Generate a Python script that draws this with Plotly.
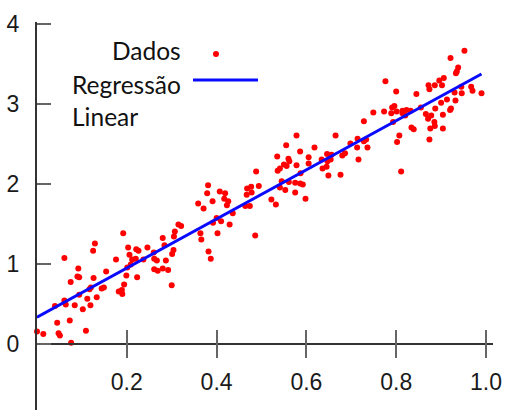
import plotly.graph_objects as go

# ---- data ----
x_dados = [
    0.129, 0.125, 0.061, 0.176, 0.092, 0.154, 0.090, 0.094, 0.126, 0.075, 0.120, 0.144, 0.149, 0.182, 0.117, 0.094,
    0.133, 0.112, 0.061, 0.064, 0.040, 0.084, 0.119, 0.102, 0.073, 0.045, 0.000, 0.014, 0.048, 0.051, 0.109, 0.076,
    0.359, 0.371, 0.192, 0.315, 0.321, 0.307, 0.305, 0.364, 0.366, 0.280, 0.284, 0.203, 0.246, 0.221, 0.226, 0.304,
    0.301, 0.260, 0.206, 0.212, 0.220, 0.237, 0.261, 0.267, 0.287, 0.209, 0.201, 0.261, 0.269, 0.280, 0.292, 0.199,
    0.223, 0.194, 0.300, 0.189, 0.190,
    0.555, 0.535, 0.560, 0.562, 0.550, 0.556, 0.541, 0.536, 0.488, 0.545, 0.561, 0.381, 0.477, 0.468, 0.494, 0.541,
    0.553, 0.379, 0.407, 0.419, 0.478, 0.467, 0.417, 0.426, 0.391, 0.522, 0.532, 0.423, 0.464, 0.474, 0.436, 0.400,
    0.410, 0.392, 0.429, 0.402, 0.486, 0.382, 0.387,
    0.749, 0.728, 0.578, 0.665, 0.714, 0.728, 0.733, 0.698, 0.618, 0.713, 0.736, 0.586, 0.686, 0.680, 0.646, 0.656,
    0.605, 0.634, 0.654, 0.647, 0.716, 0.605, 0.578, 0.645, 0.636, 0.587, 0.649, 0.676, 0.575, 0.586, 0.592, 0.575,
    0.598,
    0.952, 0.921, 0.938, 0.935, 0.933, 0.776, 0.906, 0.896, 0.902, 0.886, 0.872, 0.874, 0.967, 0.945, 0.970, 0.990,
    0.930, 0.946, 0.800, 0.845, 0.913, 0.932, 0.900, 0.855, 0.796, 0.791, 0.773, 0.789, 0.801, 0.814, 0.823, 0.832,
    0.814, 0.820, 0.887, 0.922, 0.920, 0.866, 0.878, 0.904, 0.871, 0.885, 0.886, 0.793, 0.834, 0.839, 0.876, 0.904,
    0.807, 0.802, 0.874, 0.811,
]
y_dados = [
    1.25, 1.16, 1.07, 1.05, 0.94, 0.90, 0.84, 0.83, 0.82, 0.77, 0.70, 0.69, 0.70, 0.65, 0.68, 0.61,
    0.58, 0.56, 0.54, 0.49, 0.47, 0.48, 0.48, 0.43, 0.29, 0.26, 0.15, 0.12, 0.13, 0.10, 0.16, 0.01,
    1.75, 1.69, 1.38, 1.49, 1.47, 1.40, 1.34, 1.38, 1.30, 1.32, 1.23, 1.20, 1.20, 1.18, 1.16, 1.17,
    1.12, 1.14, 1.11, 1.05, 1.06, 1.05, 1.06, 1.04, 1.04, 0.99, 0.95, 0.93, 0.91, 0.94, 0.92, 0.85,
    0.83, 0.74, 0.73, 0.67, 0.62,
    2.48, 2.34, 2.31, 2.28, 2.24, 2.22, 2.19, 2.16, 2.15, 2.03, 2.02, 1.98, 1.96, 1.94, 1.97, 1.95,
    1.92, 1.88, 1.90, 1.88, 1.89, 1.86, 1.81, 1.78, 1.78, 1.80, 1.74, 1.73, 1.72, 1.72, 1.63, 1.57,
    1.53, 1.51, 1.49, 1.38, 1.35, 1.15, 1.06,
    2.89, 2.78, 2.60, 2.60, 2.56, 2.53, 2.55, 2.50, 2.45, 2.45, 2.45, 2.40, 2.38, 2.35, 2.37, 2.36,
    2.33, 2.30, 2.30, 2.28, 2.30, 2.25, 2.23, 2.21, 2.19, 2.13, 2.10, 2.11, 2.01, 2.00, 1.99, 1.89,
    1.81,
    3.66, 3.57, 3.45, 3.40, 3.38, 3.28, 3.32, 3.29, 3.23, 3.23, 3.23, 3.18, 3.21, 3.21, 3.16, 3.13,
    3.14, 3.13, 3.15, 3.12, 3.05, 3.04, 3.01, 2.95, 2.97, 2.95, 2.90, 2.88, 2.90, 2.91, 2.92, 2.91,
    2.88, 2.85, 2.94, 2.94, 2.92, 2.87, 2.85, 2.86, 2.81, 2.77, 2.72, 2.77, 2.70, 2.68, 2.69, 2.69,
    2.60, 2.52, 2.55, 2.15,
]
reg_x = [0.0, 0.99]
reg_y = [0.33, 3.37]

x_tickvals = [0.2, 0.4, 0.6, 0.8, 1.0]
x_ticktext = ["0.2", "0.4", "0.6", "0.8", "1.0"]
y_tickvals = [0, 1, 2, 3, 4]
y_ticktext = ["0", "1", "2", "3", "4"]

label_dados = "Dados"
label_reg = "Regressão<br>Linear"

# ---- figure ----
W, H = 506, 410
ML, MR, MT, MB = 37, 13, 22, 0
y_range = [-0.83, 4.02]
x_range = [0.0, 1.0156]
x_axis_pos = (0 - y_range[0]) / (y_range[1] - y_range[0])

tick_font = dict(family="Liberation Sans, Arial, sans-serif", size=23, color="#1a1a1a")
legend_font = dict(family="Lato, sans-serif", size=24.5, color="#111111")

fig = go.Figure()
fig.add_trace(go.Scatter(
    x=x_dados, y=y_dados, mode="markers", name=label_dados,
    marker=dict(color="#ff0000", size=6, line=dict(width=0)),
    cliponaxis=False, showlegend=False,
))
fig.add_trace(go.Scatter(
    x=reg_x, y=reg_y, mode="lines", name="Regressão Linear",
    line=dict(color="#0a0aff", width=3),
    xaxis="x2", yaxis="y", showlegend=False,
))

fig.update_layout(
    width=W, height=H,
    margin=dict(l=ML, r=MR, t=MT, b=MB, pad=0),
    paper_bgcolor="white", plot_bgcolor="white",
    showlegend=False,
    xaxis=dict(
        range=x_range, anchor="free", position=x_axis_pos,
        showgrid=False, zeroline=False,
        showline=True, linecolor="#333333", linewidth=1.5,
        ticks="outside", ticklen=14, tickwidth=1.5, tickcolor="#666666",
        tickvals=x_tickvals, ticktext=x_ticktext, tickfont=tick_font,
        ticklabelstandoff=4,
    ),
    xaxis2=dict(
        range=x_range, overlaying="x", anchor="free", position=x_axis_pos,
        showgrid=False, zeroline=False, showline=False,
        ticks="inside", ticklen=14, tickwidth=1.5, tickcolor="#666666",
        tickvals=x_tickvals, showticklabels=False,
    ),
    yaxis=dict(
        range=y_range, showgrid=False, zeroline=False,
        showline=True, linecolor="#333333", linewidth=2,
        ticks="inside", ticklen=14, tickwidth=1.5, tickcolor="#666666",
        tickvals=y_tickvals, ticktext=y_ticktext, tickfont=tick_font,
        ticklabelstandoff=11,
    ),
)

# legend (text left of the key, as in the reference)
fig.add_annotation(xref="paper", yref="paper", x=0.3202, y=0.9253, text=label_dados,
                   showarrow=False, xanchor="right", yanchor="middle", font=legend_font)
fig.add_annotation(xref="paper", yref="paper", x=0.0724, y=0.797, text=label_reg,
                   showarrow=False, xanchor="left", yanchor="middle", align="left", font=legend_font)
fig.add_shape(type="circle", xref="paper", yref="paper", xsizemode="pixel", ysizemode="pixel",
              xanchor=0.3925, yanchor=0.9175, x0=-3, x1=3, y0=-3, y1=3,
              fillcolor="#ff0000", line=dict(width=0))
fig.add_shape(type="line", xref="paper", yref="paper", x0=0.3421, x1=0.4846, y0=0.8505, y1=0.8505,
              line=dict(color="#0a0aff", width=3))

fig.write_html("out.html")
